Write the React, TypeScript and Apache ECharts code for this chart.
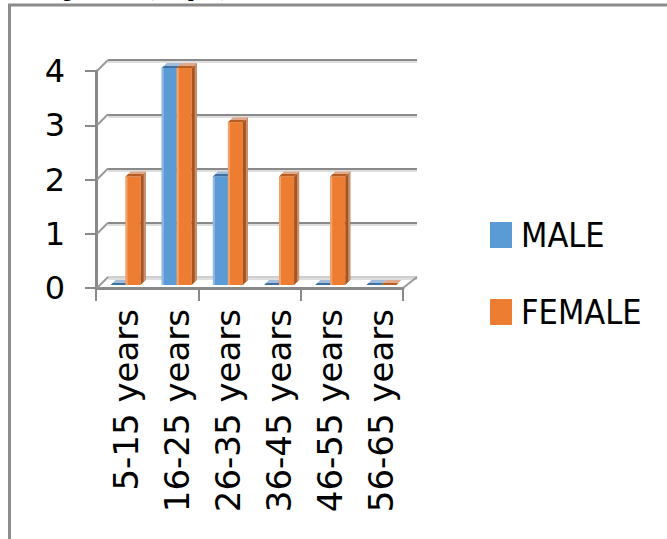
import React, { useEffect, useRef } from "react";
import * as echarts from "echarts";

const categories = ["5-15 years", "16-25 years", "26-35 years", "36-45 years", "46-55 years", "56-65 years"];
const maleValues = [0, 4, 2, 0, 0, 0];
const femaleValues = [2, 4, 3, 2, 2, 0];
const yTicks = [0, 1, 2, 3, 4];
const seriesNames = ["MALE", "FEMALE"];
const headerText = "Age Limits (samples)";

const DX = 12;
const DY = -11;

const palettes = [
  { front: "#5b9bd5", strip: "#8fb9e3", side: "#41719c", edge: "#8aa9c9", topLight: "#a3bcd9", topDark: "#3f70a3" },
  { front: "#ed7d31", strip: "#f3a46c", side: "#a9541e", edge: "#c8926f", topLight: "#dfaa8b", topDark: "#b85d22" },
];

function barRenderer(si: number) {
  const pal = palettes[si];
  return (params: any, api: any) => {
    const i = api.value(0);
    const v = api.value(1);
    const base = api.coord([i, 0]);
    const top = api.coord([i, v]);
    const bw = 15;
    const dx = 5;
    const dy = -5;
    const x0 = base[0] + (si === 0 ? -bw : 0);
    const x1 = x0 + bw;
    const yb = base[1];
    const yt = top[1];
    const h = Math.max(0, yb - yt);
    const children: any[] = [];
    if (h > 0) {
      children.push({ type: "rect", shape: { x: x0, y: yt, width: bw, height: h }, style: { fill: pal.front } });
      children.push({ type: "rect", shape: { x: x0, y: yt, width: 2, height: h }, style: { fill: pal.strip } });
      children.push({
        type: "polygon",
        shape: { points: [[x1, yt], [x1 + dx, yt + dy], [x1 + dx, yb + dy], [x1, yb]] },
        style: { fill: pal.side },
      });
      children.push({
        type: "polygon",
        shape: { points: [[x1 + dx - 2, yt + dy + 2], [x1 + dx, yt + dy], [x1 + dx, yb + dy], [x1 + dx - 2, yb + dy + 2]] },
        style: { fill: pal.edge },
      });
    }
    children.push({
      type: "polygon",
      shape: { points: [[x0, yt], [x1, yt], [x1 + dx, yt + dy], [x0 + dx, yt + dy]] },
      style: {
        fill: new echarts.graphic.LinearGradient(0, 0, 0, 1, [
          { offset: 0, color: pal.topLight },
          { offset: 0.5, color: pal.topLight },
          { offset: 0.5, color: pal.topDark },
          { offset: 1, color: pal.topDark },
        ]),
      },
    });
    return { type: "group", children };
  };
}

export default function App() {
  const ref = useRef<HTMLDivElement>(null);
  useEffect(() => {
    if (!ref.current) return;
    const chart = echarts.init(ref.current, null, { renderer: "svg" });
    const hidden = { show: false };
    const option: any = {
      animation: false,
      backgroundColor: "#ffffff",
      graphic: [
        {
          type: "rect",
          shape: { x: 9.5, y: 5, width: 720, height: 620 },
          style: { fill: "none", stroke: "#8c8c8c", lineWidth: 3 },
          silent: true,
        },
        {
          type: "text",
          x: 48,
          y: -1,
          style: {
            text: headerText,
            font: "bold 20px 'Liberation Serif'",
            fill: "#000",
            verticalAlign: "bottom",
          },
          silent: true,
        },
      ],
      legend: {
        orient: "vertical",
        left: 485,
        top: 213,
        itemWidth: 22,
        itemHeight: 26,
        itemGap: 43,
        icon: "rect",
        data: seriesNames,
        selectedMode: false,
        textStyle: { fontFamily: "DejaVu Sans Condensed", fontSize: 34, color: "#000", padding: [0, 0, 0, 4] },
      },
      grid: [
        { left: 96, top: 71, width: 307, height: 217 },
        { left: 100, top: 68, width: 307, height: 217 },
        { left: 108, top: 60, width: 309, height: 217 },
        { left: 108, top: 62, width: 309, height: 217 },
      ],
      xAxis: [
        {
          type: "category",
          gridIndex: 0,
          data: categories,
          axisLine: { show: true, lineStyle: { color: "#898989", width: 3 } },
          axisTick: { show: true, length: 13, lineStyle: { color: "#898989", width: 2 } },
          axisLabel: { show: false },
          splitLine: { show: false },
        },
        {
          type: "category",
          gridIndex: 1,
          data: categories,
          axisLine: { show: false },
          axisTick: { show: false },
          splitLine: { show: false },
          axisLabel: { rotate: 90, interval: 0, margin: 24, fontFamily: "DejaVu Sans", fontSize: 34, color: "#000" },
        },
        { type: "category", gridIndex: 2, data: categories, show: false },
        { type: "category", gridIndex: 3, data: categories, show: false },
      ],
      yAxis: [
        {
          type: "value",
          gridIndex: 0,
          min: 0,
          max: 4,
          interval: 1,
          axisLine: { show: true, lineStyle: { color: "#898989", width: 3 } },
          axisTick: { show: true, length: 11, lineStyle: { color: "#898989", width: 2 } },
          axisLabel: { margin: 31, fontFamily: "DejaVu Sans", fontSize: 32, color: "#000" },
          splitLine: { show: false },
        },
        { type: "value", gridIndex: 1, min: 0, max: 4, interval: 1, ...hidden },
        {
          type: "value",
          gridIndex: 2,
          min: 0,
          max: 4,
          interval: 1,
          axisLine: { show: false },
          axisTick: { show: false },
          axisLabel: { show: false },
          splitLine: { show: true, lineStyle: { color: ["#cfcfcf", "#8a8a8a", "#8a8a8a", "#8a8a8a", "#8a8a8a"], width: 2 } },
        },
        {
          type: "value",
          gridIndex: 3,
          min: 0,
          max: 4,
          interval: 1,
          axisLine: { show: false },
          axisTick: { show: false },
          axisLabel: { show: false },
          splitLine: { show: true, lineStyle: { color: "#dedede", width: 2 } },
        },
      ],
      series: [
        {
          type: "custom",
          name: "frame",
          xAxisIndex: 0,
          yAxisIndex: 0,
          silent: true,
          z: 1,
          data: yTicks.map((v) => [0, v]),
          renderItem: (params: any, api: any) => {
            const v = api.value(1);
            const p = api.coord([0, v]);
            const bw = api.size([1, 0])[0];
            const xl = p[0] - bw / 2;
            const children: any[] = [
              { type: "line", shape: { x1: xl + 1, y1: p[1], x2: xl + DX, y2: p[1] + DY }, style: { stroke: "#9a9a9a", lineWidth: 2 } },
            ];
            if (v === 0) {
              const pr = api.coord([categories.length - 1, 0]);
              const xr = pr[0] + bw / 2;
              children.push({ type: "line", shape: { x1: xr, y1: pr[1], x2: xr + DX + 2, y2: pr[1] + DY }, style: { stroke: "#9a9a9a", lineWidth: 2 } });
            }
            return { type: "group", children };
          },
        },
        {
          type: "custom",
          name: seriesNames[0],
          xAxisIndex: 1,
          yAxisIndex: 1,
          z: 3,
          itemStyle: { color: palettes[0].front },
          data: categories.map((c, i) => [i, maleValues[i]]),
          renderItem: barRenderer(0),
        },
        {
          type: "custom",
          name: seriesNames[1],
          xAxisIndex: 1,
          yAxisIndex: 1,
          z: 4,
          itemStyle: { color: palettes[1].front },
          data: categories.map((c, i) => [i, femaleValues[i]]),
          renderItem: barRenderer(1),
        },
      ],
    };
    chart.setOption(option);
    return () => chart.dispose();
  }, []);
  return <div ref={ref} style={{ position: "fixed", left: 0, top: 0, width: 667, height: 539, background: "#fff" }} />;
}
